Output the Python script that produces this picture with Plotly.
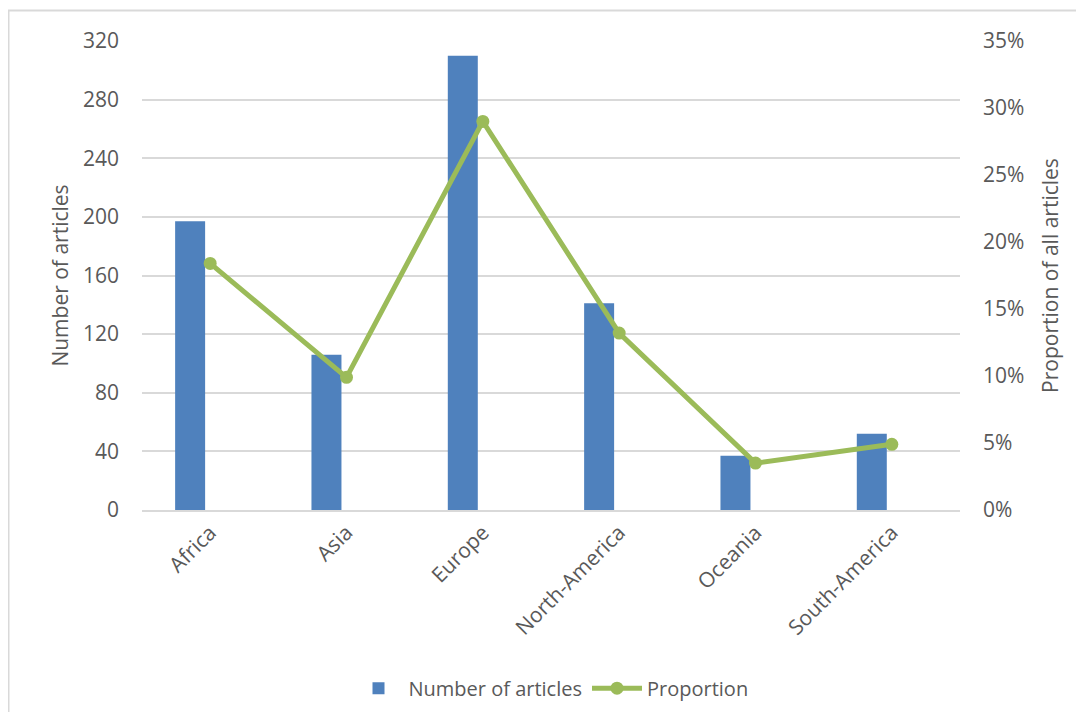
import plotly.graph_objects as go

categories = ["Africa", "Asia", "Europe", "North-America", "Oceania", "South-America"]
num_articles = [197, 106, 310, 141, 37, 52]
proportion = [0.184, 0.099, 0.290, 0.132, 0.035, 0.049]
left_ticks = [0, 40, 80, 120, 160, 200, 240, 280, 320]
right_ticks = [0, 0.05, 0.10, 0.15, 0.20, 0.25, 0.30, 0.35]

FONT = "Open Sans"
GREY = "#595959"

fig = go.Figure()
fig.add_trace(go.Bar(
    x=categories, y=num_articles, name="Number of articles",
    marker=dict(color="#4f81bd", line=dict(width=0)),
    width=0.22, offset=-0.257, yaxis="y",
))
fig.add_trace(go.Scatter(
    x=categories, y=proportion, name="Proportion", mode="lines+markers",
    line=dict(color="#9bbb59", width=5),
    marker=dict(color="#9bbb59", size=13),
    yaxis="y2",
))

fig.update_layout(
    width=1068, height=704,
    margin=dict(l=134, r=116, t=33, b=202, autoexpand=False),
    paper_bgcolor="white", plot_bgcolor="white",
    font=dict(family=FONT, color=GREY, size=20),
    showlegend=True,
    legend=dict(orientation="h", x=0.5, xanchor="center", y=-0.38, yanchor="middle",
                font=dict(size=20, color=GREY, family=FONT), itemwidth=50,
                traceorder="normal"),
    xaxis=dict(type="category", tickangle=-45, showgrid=False, showline=True,
               linecolor="#d9d9d9", linewidth=2, ticks="",
               tickfont=dict(size=21, color=GREY, family=FONT)),
    yaxis=dict(range=[0, 320], tickvals=left_ticks, showgrid=True, gridcolor="#d9d9d9",
               gridwidth=2, zeroline=False, showline=False, ticks="",
               ticklabelstandoff=22,
               tickfont=dict(size=21, color=GREY, family=FONT),
               title=dict(text="Number of articles", font=dict(size=21, color=GREY, family=FONT),
                          standoff=8)),
    yaxis2=dict(range=[0, 0.35], tickvals=right_ticks, tickformat=".0%", overlaying="y",
                side="right", showgrid=False, zeroline=False, showline=False, ticks="",
                ticklabelstandoff=22,
                tickfont=dict(size=21, color=GREY, family=FONT),
                title=dict(text="Proportion of all articles", font=dict(size=21, color=GREY, family=FONT),
                           standoff=19)),
    shapes=[dict(type="rect", xref="paper", yref="paper",
                 x0=-0.1632, x1=1.16, y0=-0.47, y1=1.065,
                 line=dict(color="#d9d9d9", width=2), layer="below")],
)

fig.write_html("out.html")
